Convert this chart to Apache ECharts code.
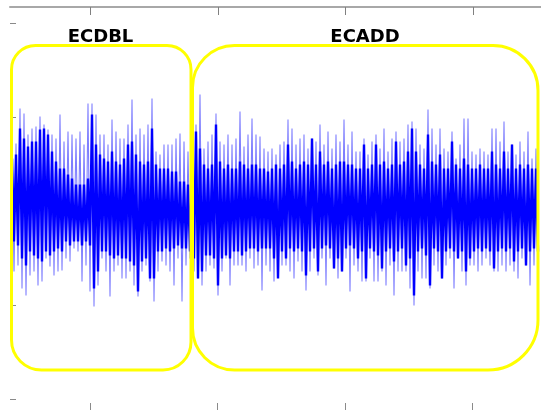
<!DOCTYPE html>
<html>
<head>
<meta charset="utf-8">
<script src="https://cdn.jsdelivr.net/npm/echarts@6/dist/echarts.min.js"></script>
<style>
  html, body { margin: 0; padding: 0; background: #fff; }
  #chart { width: 541px; height: 410px; }
</style>
</head>
<body>
<div id="chart"></div>
<script>
// trace, one column every 4 samples
const T0 = 2
const DT = 4
const peakHi = [
  72, 68, 103, 98, 77, 83, 85, 95, 87, 82, 77, 73, 97, 70, 80, 77, 73, 80, 67, 108,
  108, 97, 77, 77, 67, 92, 80, 73, 73, 87, 112, 77, 83, 77, 87, 113, 60, 57, 67, 67, 67, 73,
  78, 70, 60, 70, 87, 117, 63, 70, 77, 98, 70, 67, 77, 67, 73, 100, 65, 77, 93, 77, 75, 63, 60,
  63, 57, 67, 70, 92, 83, 67, 73, 77, 63, 73, 70, 87, 67, 80, 63, 77, 70, 92, 67, 80, 60,
  60, 73, 57, 70, 77, 63, 83, 60, 73, 80, 70, 73, 87, 90, 83, 67, 63, 102, 83, 67, 83, 63, 60,
  80, 53, 67, 93, 93, 60, 57, 63, 60, 57, 83, 83, 70, 90, 60, 67, 57, 70, 60, 80, 53, 63
]
const coreHi = [
  53, 57, 83, 73, 65, 70, 70, 82, 83, 77, 60, 50, 43, 43, 37, 33, 27, 27, 27, 33,
  97, 67, 57, 53, 50, 60, 50, 47, 53, 67, 70, 57, 50, 47, 50, 83, 47, 43, 43, 43, 40, 40,
  30, 30, 27, 43, 80, 63, 47, 43, 47, 87, 50, 43, 47, 43, 43, 50, 47, 43, 47, 47, 43, 43, 40,
  43, 47, 43, 47, 67, 50, 43, 47, 50, 47, 73, 47, 60, 47, 50, 43, 47, 50, 50, 47, 47, 43,
  43, 67, 43, 47, 67, 47, 50, 43, 47, 70, 47, 50, 60, 83, 60, 47, 43, 77, 50, 47, 57, 43, 43,
  70, 47, 43, 53, 47, 43, 43, 47, 43, 43, 60, 47, 43, 60, 43, 67, 43, 47, 43, 47, 43, 43
]
const coreLo = [
  -30, -34, -47, -54, -40, -44, -47, -50, -40, -44, -40, -37, -40, -30, -34, -30, -30, -34, -30, -34,
  -77, -60, -40, -40, -44, -47, -44, -47, -47, -50, -54, -80, -50, -47, -67, -67, -40, -40, -37, -40, -37, -34,
  -37, -37, -40, -47, -67, -60, -44, -44, -47, -74, -47, -44, -47, -40, -40, -44, -40, -37, -37, -40, -37, -37, -37,
  -47, -67, -40, -47, -37, -40, -37, -40, -64, -40, -37, -60, -37, -34, -37, -57, -47, -60, -37, -34, -37, -47,
  -40, -67, -37, -40, -44, -57, -40, -37, -50, -40, -37, -54, -47, -84, -40, -37, -44, -74, -37, -40, -67, -40, -37,
  -40, -47, -40, -60, -47, -40, -37, -40, -37, -40, -57, -40, -37, -40, -37, -50, -40, -37, -54, -40, -37, -40
]
const peakLo = [
  -60, -54, -77, -84, -64, -60, -74, -70, -47, -55, -64, -60, -59, -47, -50, -37, -40, -70, -54, -80,
  -95, -74, -47, -60, -85, -60, -54, -67, -67, -60, -74, -85, -60, -54, -70, -90, -60, -50, -54, -60, -74, -47,
  -90, -54, -47, -60, -67, -74, -60, -54, -57, -84, -60, -47, -74, -54, -54, -54, -60, -47, -57, -54, -79, -54, -60,
  -70, -47, -54, -54, -60, -67, -50, -60, -79, -60, -47, -64, -47, -74, -47, -57, -67, -60, -47, -80, -54, -60,
  -70, -70, -47, -70, -70, -60, -74, -54, -84, -60, -60, -60, -77, -94, -60, -67, -67, -77, -54, -60, -67, -54, -47,
  -77, -47, -60, -74, -54, -54, -60, -54, -47, -54, -60, -60, -54, -60, -54, -60, -67, -47, -54, -74, -54, -50
]

const xTicks = [80, 207.5, 335, 462.5]
const yTicks = [-188, -94, 0, 94, 188]
const Y_MIN = -198.5
const Y_MAX = 204.5

const regions = ['ECDBL', 'ECADD']

// alternate high / low samples so the trace reads as a dense zigzag
const zigzag = (hi, lo) => {
  const out = []
  hi.forEach((v, i) => {
    out.push([T0 + DT * i, v])
    out.push([T0 + DT * i + DT / 2, lo[i]])
  })
  return out
}

const chart = echarts.init(document.getElementById('chart'), null, { renderer: 'canvas' })

const tickStyle = { color: '#8a8a8a', width: 1 }

const boxes = [
  {
    type: 'rect', z: 100,
    shape: { x: 11.5, y: 45.5, width: 179.5, height: 324.5, r: [24, 24, 28, 30] },
    style: { fill: 'none', stroke: '#ffff00', lineWidth: 3 }
  },
  {
    type: 'rect', z: 100,
    shape: { x: 192.5, y: 45.5, width: 345.5, height: 324.5, r: [42, 45, 50, 42] },
    style: { fill: 'none', stroke: '#ffff00', lineWidth: 3 }
  },
  {
    type: 'text', z: 100,
    style: { text: regions[0], x: 100.5, y: 37, align: 'center', verticalAlign: 'middle',
      font: 'bold 18px "DejaVu Sans"', fill: '#000' }
  },
  {
    type: 'text', z: 100,
    style: { text: regions[1], x: 365, y: 37, align: 'center', verticalAlign: 'middle',
      font: 'bold 18px "DejaVu Sans"', fill: '#000' }
  }
]

chart.setOption({
  animation: false,
  backgroundColor: '#ffffff',
  grid: { left: 10, right: 0, top: 7, bottom: 0 },
  xAxis: [
    {
      type: 'value', position: 'bottom', min: 0, max: 531,
      axisLine: { show: false, onZero: false },
      axisTick: { show: true, inside: true, length: 7, customValues: xTicks, lineStyle: tickStyle },
      axisLabel: { show: false },
      splitLine: { show: false }
    },
    {
      type: 'value', position: 'top', min: 0, max: 531,
      axisLine: { show: true, onZero: false, lineStyle: { color: '#a8a8a8', width: 2 } },
      axisTick: { show: false },
      axisLabel: { show: false },
      splitLine: { show: false }
    }
  ],
  yAxis: {
    type: 'value', min: Y_MIN, max: Y_MAX,
    axisLine: { show: false, onZero: false },
    axisTick: { show: true, inside: true, length: 6, customValues: yTicks, lineStyle: tickStyle },
    axisLabel: { show: false },
    splitLine: { show: false }
  },
  series: [
    {
      name: 'peaks',
      type: 'line',
      data: zigzag(peakHi, peakLo),
      showSymbol: false,
      sampling: null,
      lineStyle: { color: 'rgba(0,0,255,0.5)', width: 1.1, join: 'bevel' },
      z: 2
    },
    {
      name: 'core',
      type: 'line',
      data: zigzag(coreHi, coreLo),
      showSymbol: false,
      lineStyle: { color: '#0000ff', width: 2.4, join: 'bevel' },
      z: 3
    }
  ],
  graphic: boxes
})

// top-edge ticks placed through the same x scale as the bottom ones
const topTicks = xTicks.map(v => {
  const px = Math.round(chart.convertToPixel({ xAxisIndex: 0 }, v)) + 0.5
  const py = chart.convertToPixel({ yAxisIndex: 0 }, Y_MAX)
  return {
    type: 'line', z: 90,
    shape: { x1: px, y1: py, x2: px, y2: py + 8 },
    style: { stroke: '#808080', lineWidth: 1 }
  }
})
chart.setOption({ graphic: boxes.concat(topTicks) })
</script>
</body>
</html>
